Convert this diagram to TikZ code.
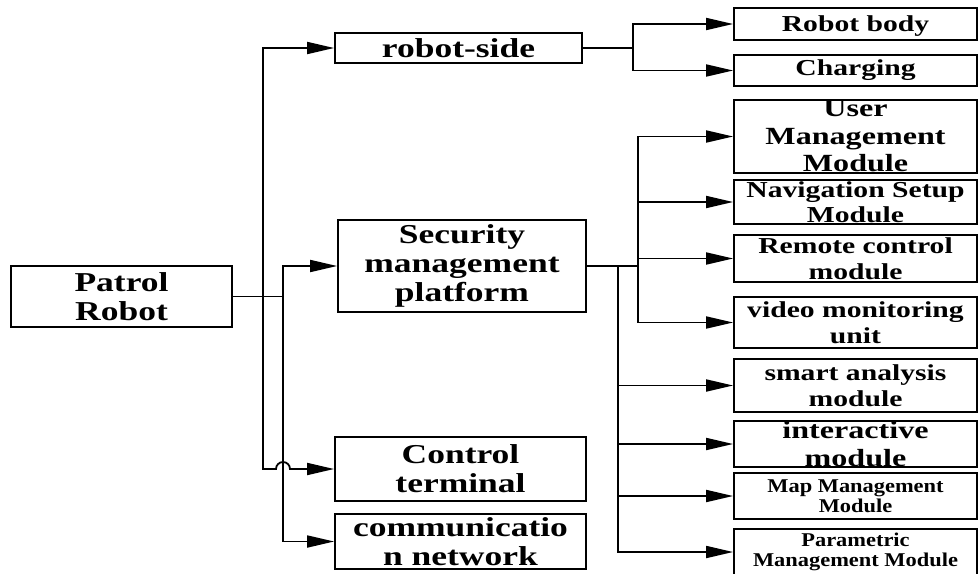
\documentclass[tikz,border=0pt]{standalone}
\usepackage{fontspec}
\usetikzlibrary{arrows.meta}

\newfontfamily\wideserif[FakeStretch=1.3]{Liberation Serif}
\newfontfamily\slimserif[FakeStretch=1.15]{Liberation Serif}
% fixed-size label: width, height, text (overflows instead of growing the box)
\newcommand{\boxlabel}[3]{\parbox[c][#2][c]{#1}{\centering #3}}

\begin{document}
\begin{tikzpicture}[
  x=1pt, y=-1pt,
  line width=1.8pt,
  box/.style={draw, inner sep=0pt, line width=1.8pt},
  main/.style={box, font=\wideserif\bfseries\fontsize{27.3}{29}\selectfont},
  leaf/.style={box, font=\wideserif\bfseries\fontsize{22.8}{25.5}\selectfont},
  bigleaf/.style={box, font=\wideserif\bfseries\fontsize{24.7}{27.5}\selectfont},
  smallleaf/.style={box, font=\slimserif\bfseries\fontsize{19.5}{20}\selectfont},
  flow/.style={-{Triangle[length=27pt, width=12pt]}},
]
\useasboundingbox (0,0) rectangle (979,573);

% first level
\node[main] (root) at (121.5,296.5) {\boxlabel{221pt}{61pt}{Patrol\\Robot}};
\node[main] (side) at (458.5,48) {\boxlabel{247pt}{30pt}{robot-side}};
\node[main] (sec) at (462,266) {\boxlabel{248pt}{92pt}{Security\\management\\platform}};
\node[main] (ctrl) at (460.5,469) {\boxlabel{251pt}{64pt}{Control\\terminal}};
\node[main] (net) at (460.5,541.5) {\boxlabel{251pt}{55pt}{communicatio\\n network}};

% robot-side parts
\node[leaf] (body) at (855.5,24) {\boxlabel{243pt}{32pt}{\vspace{5pt}Robot body}};
\node[leaf] (charge) at (855.5,70.5) {\boxlabel{243pt}{31pt}{Charging}};

% platform modules
\node[bigleaf] (user) at (855.5,136.5) {\boxlabel{243pt}{73pt}{User\\Management\\Module}};
\node[leaf] (nav) at (855.5,202) {\boxlabel{243pt}{44pt}{Navigation Setup\\Module}};
\node[leaf] (remote) at (855.5,258.5) {\boxlabel{243pt}{47pt}{Remote control\\module}};
\node[leaf] (video) at (855.5,322.5) {\boxlabel{243pt}{51pt}{video monitoring\\unit}};
\node[leaf] (smart) at (855.5,385.5) {\boxlabel{243pt}{53pt}{smart analysis\\module}};
\node[bigleaf] (inter) at (855.5,444) {\boxlabel{243pt}{46pt}{interactive\\module}};
\node[smallleaf] (map) at (855.5,496) {\boxlabel{243pt}{46pt}{Map Management\\Module}};
\node[smallleaf] (param) at (855.5,552) {\boxlabel{243pt}{46pt}{Parametric\\Management Module}};

% junctions
\coordinate (trunkA) at (263,296.5);
\coordinate (trunkB) at (283,296.5);
\coordinate (sideJ) at (633,48);
\coordinate (secA) at (618,266);
\coordinate (secB) at (638,266);

% root branches
\draw (root.east) -- (trunkB);
\draw[flow] (trunkA) |- (side.west);
\draw[flow] (trunkB) |- (sec.west);
\draw[flow] (trunkB) |- (net.west);
\draw[flow] (trunkA) -- (trunkA |- ctrl.west) -- ++(13,0)
  arc[start angle=180, end angle=360, radius=7] -- (ctrl.west);

% robot-side branches
\draw (side.east) -- (sideJ);
\draw[flow] (sideJ) |- (body.west);
\draw[flow] (sideJ) |- (charge.west);

% platform branches
\draw (sec.east) -- (secB);
\draw[flow] (secB) |- (user.west);
\draw[flow] (secB) |- (nav.west);
\draw[flow] (secB) |- (remote.west);
\draw[flow] (secB) |- (video.west);
\draw[flow] (secA) |- (smart.west);
\draw[flow] (secA) |- (inter.west);
\draw[flow] (secA) |- (map.west);
\draw[flow] (secA) |- (param.west);

\end{tikzpicture}
\end{document}
